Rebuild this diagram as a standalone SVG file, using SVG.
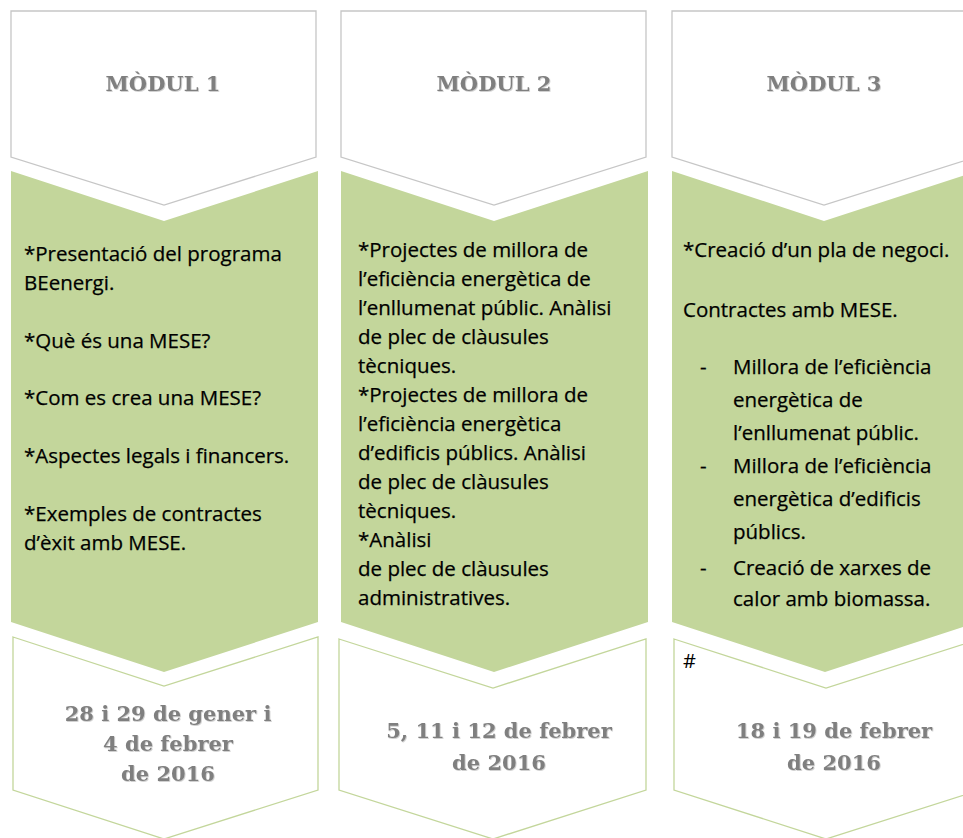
<svg xmlns="http://www.w3.org/2000/svg" width="963" height="838" viewBox="0 0 963 838">
<defs>
<filter id="sh" x="-10%" y="-20%" width="120%" height="140%">
<feDropShadow dx="0.8" dy="0.8" stdDeviation="0.6" flood-color="#bfbfbf" flood-opacity="0.9"/>
</filter>
</defs>
<style>
.top{fill:#ffffff;stroke:#c6c6c6;stroke-width:1.3}
.mid{fill:#c3d69b;stroke:none}
.bot{fill:#ffffff;stroke:#c3d69b;stroke-width:1.3}
.hd{font-family:"DejaVu Serif","Liberation Serif",serif;font-weight:bold;font-size:21px;fill:#7f7f7f;text-anchor:middle}
.dt{font-family:"DejaVu Serif","Liberation Serif",serif;font-weight:bold;font-size:21px;fill:#7f7f7f;text-anchor:middle}
.bd{font-family:"Open Sans","Liberation Sans",sans-serif;font-size:20.5px;fill:#000000;stroke:#000000;stroke-width:0.25}
</style>
<rect width="963" height="838" fill="#ffffff"/>
<g id="module1">
<polygon class="top" points="11,11 316,11 316,157 164,205 11,157"/>
<polygon class="mid" points="11,171 164,221 318,171 318,622 164,672 11,622"/>
<polygon class="bot" points="13,637 164,686 318,637 318,790 164,839 13,790"/>
<text class="hd" x="163" y="91" filter="url(#sh)">MÒDUL 1</text>
<g class="bd">
<text x="24" y="261">*Presentació del programa</text>
<text x="24" y="290">BEenergi.</text>
<text x="24" y="348">*Què és una MESE?</text>
<text x="24" y="405">*Com es crea una MESE?</text>
<text x="24" y="463">*Aspectes legals i financers.</text>
<text x="24" y="521">*Exemples de contractes</text>
<text x="24" y="550">d’èxit amb MESE.</text>
</g>
<g class="dt" filter="url(#sh)">
<text x="168" y="721">28 i 29 de gener i</text>
<text x="168" y="751">4 de febrer</text>
<text x="168" y="781">de 2016</text>
</g>
</g>
<g id="module2">
<polygon class="top" points="341,11 646,11 646,157 494,205 341,157"/>
<polygon class="mid" points="341,171 494,221 648,171 648,622 494,672 341,622"/>
<polygon class="bot" points="339,639 493,688 646,639 646,790 493,839 339,790"/>
<text class="hd" x="494" y="91" filter="url(#sh)">MÒDUL 2</text>
<g class="bd">
<text x="358" y="257">*Projectes de millora de</text>
<text x="358" y="286">l’eficiència energètica de</text>
<text x="358" y="315">l’enllumenat públic. Anàlisi</text>
<text x="358" y="344">de plec de clàusules</text>
<text x="358" y="373">tècniques.</text>
<text x="358" y="402">*Projectes de millora de</text>
<text x="358" y="431">l’eficiència energètica</text>
<text x="358" y="460">d’edificis públics. Anàlisi</text>
<text x="358" y="489">de plec de clàusules</text>
<text x="358" y="518">tècniques.</text>
<text x="358" y="547">*Anàlisi</text>
<text x="358" y="576">de plec de clàusules</text>
<text x="358" y="605">administratives.</text>
</g>
<g class="dt" filter="url(#sh)">
<text x="499" y="738">5, 11 i 12 de febrer</text>
<text x="499" y="770">de 2016</text>
</g>
</g>
<g id="module3">
<polygon class="top" points="672,11 976,11 976,157 824,205 672,157"/>
<polygon class="mid" points="672,171 824,221 978,171 978,622 825,672 672,622"/>
<polygon class="bot" points="674,639 826,688 980,639 980,790 826,839 674,790"/>
<text class="hd" x="824" y="91" filter="url(#sh)">MÒDUL 3</text>
<g class="bd">
<text x="683" y="257">*Creació d’un pla de negoci.</text>
<text x="683" y="317">Contractes amb MESE.</text>
<text x="700" y="374">-</text>
<text x="733" y="374">Millora de l’eficiència</text>
<text x="733" y="407">energètica de</text>
<text x="733" y="440">l’enllumenat públic.</text>
<text x="700" y="473">-</text>
<text x="733" y="473">Millora de l’eficiència</text>
<text x="733" y="506">energètica d’edificis</text>
<text x="733" y="539">públics.</text>
<text x="700" y="575">-</text>
<text x="733" y="575">Creació de xarxes de</text>
<text x="733" y="606">calor amb biomassa.</text>
</g>
<text x="683" y="668" font-family="'Open Sans','Liberation Sans',sans-serif" font-size="20px" fill="#000000">#</text>
<g class="dt" filter="url(#sh)">
<text x="834" y="738">18 i 19 de febrer</text>
<text x="834" y="770">de 2016</text>
</g>
</g>
<g id="connectors"></g>
</svg>
